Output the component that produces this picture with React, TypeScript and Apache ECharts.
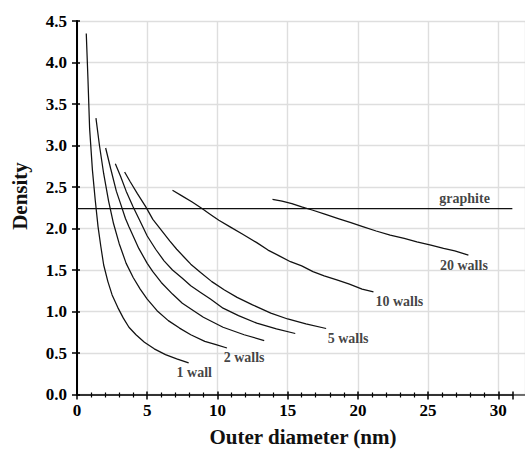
import React, { useEffect, useRef } from "react";
import * as echarts from "echarts";

// Outer diameter (nm) vs density
const wall1: number[][] = [
  [0.66, 4.35], [0.78, 3.8], [0.9, 3.2], [1.1, 2.7], [1.3, 2.34], [1.5, 2.02], [1.7, 1.78],
  [1.9, 1.56], [2.2, 1.36], [2.5, 1.2], [2.9, 1.05], [3.3, 0.92], [3.7, 0.81], [4.2, 0.72],
  [4.8, 0.63], [5.5, 0.55], [6.3, 0.48], [7.1, 0.43], [7.95, 0.38],
];
const walls2: number[][] = [
  [1.35, 3.33], [1.6, 3.0], [1.9, 2.66], [2.25, 2.33], [2.6, 2.06], [3.0, 1.82], [3.5, 1.58],
  [4.0, 1.41], [4.5, 1.27], [5.0, 1.15], [5.7, 1.01], [6.5, 0.89], [7.3, 0.8], [8.1, 0.72],
  [9.1, 0.64], [9.9, 0.6], [10.68, 0.56],
];
const walls3: number[][] = [
  [2.04, 2.97], [2.4, 2.72], [2.8, 2.45], [3.1, 2.3], [3.45, 2.12], [3.7, 2.02], [4.4, 1.76],
  [5.0, 1.58], [5.4, 1.48], [6.0, 1.35], [6.8, 1.21], [7.5, 1.1], [8.3, 1.01], [9.0, 0.93],
  [10.4, 0.81], [11.9, 0.72], [13.33, 0.65],
];
const walls4: number[][] = [
  [2.73, 2.78], [3.1, 2.63], [3.5, 2.45], [4.0, 2.26], [4.46, 2.1], [5.0, 1.91], [5.6, 1.75],
  [6.2, 1.61], [6.8, 1.5], [7.5, 1.4], [8.1, 1.31], [8.8, 1.23], [9.5, 1.15], [10.4, 1.04],
  [11.5, 0.95], [12.8, 0.86], [14.2, 0.79], [15.54, 0.735],
];
const walls5: number[][] = [
  [3.39, 2.68], [3.8, 2.56], [4.3, 2.42], [4.9, 2.26], [5.4, 2.11], [6.0, 1.98], [6.6, 1.85],
  [7.1, 1.75], [7.6, 1.66], [8.1, 1.57], [8.8, 1.47], [9.6, 1.36], [10.5, 1.26], [11.4, 1.17],
  [12.5, 1.08], [13.8, 0.98], [15.0, 0.91], [16.3, 0.85], [17.74, 0.795],
];
const walls10: number[][] = [
  [6.8, 2.46], [7.5, 2.39], [8.2, 2.32], [8.9, 2.24], [9.5, 2.17], [10.1, 2.1], [10.9, 2.02],
  [11.8, 1.93], [12.8, 1.83], [13.6, 1.74], [14.4, 1.67], [15.2, 1.6], [16.0, 1.55],
  [16.8, 1.48], [17.6, 1.43], [18.5, 1.38], [19.4, 1.33], [20.3, 1.27], [21.11, 1.237],
];
const walls20: number[][] = [
  [13.92, 2.35], [14.6, 2.33], [15.3, 2.3], [16.0, 2.26], [16.8, 2.22], [17.7, 2.17],
  [18.6, 2.12], [19.5, 2.07], [20.4, 2.02], [21.3, 1.97], [22.3, 1.92], [23.3, 1.88],
  [24.2, 1.84], [25.2, 1.8], [26.1, 1.76], [26.9, 1.73], [27.87, 1.68],
];
const graphite: number[][] = [[0, 2.24], [31, 2.24]];

const labelNames = ["1 wall", "2 walls", "5 walls", "10 walls", "20 walls", "graphite"];
const labelX = [8.35, 11.9, 19.3, 22.95, 27.55, 27.6];
const labelY = [0.27, 0.45, 0.67, 1.12, 1.56, 2.36];

const X_MAX = 31;
const Y_MAX = 4.5;
const X_GRID_MAX = 31.9;

const SERIF = "Liberation Serif";

const tickRich = {
  t: { fontFamily: SERIF, fontWeight: "bold", fontSize: 17, color: "#000" },
};

export default function App() {
  const ref = useRef<HTMLDivElement>(null);
  useEffect(() => {
    if (!ref.current) return;
    const chart = echarts.init(ref.current, undefined, { renderer: "svg" });
    const W = 525;
    const L = 77;
    const k = (W - L) / X_GRID_MAX;
    const right1 = W - L - X_MAX * k;
    const top = 21;
    const bottom = 56.5;

    const curves = [wall1, walls2, walls3, walls4, walls5, walls10, walls20, graphite];
    const lineSeries = curves.map((d) => ({
      type: "line",
      xAxisIndex: 0,
      yAxisIndex: 0,
      data: d,
      symbol: "none",
      smooth: false,
      clip: false,
      lineStyle: { color: "#111", width: 1.25 },
      z: 3,
    }));

    const hidden = { show: false };

    chart.setOption({
      animation: false,
      textStyle: { fontFamily: SERIF, fontWeight: "bold", color: "#000" },
      grid: [
        { left: L, right: right1, top, bottom },
        { left: L, right: 0, top, bottom },
        { left: L, right: right1, top, bottom },
      ],
      xAxis: [
        {
          type: "value",
          gridIndex: 0,
          position: "bottom",
          min: 0,
          max: X_MAX,
          interval: 5,
          axisLine: { show: true, lineStyle: { color: "#000", width: 2 } },
          axisTick: { show: true, inside: false, length: 5, lineStyle: { color: "#000", width: 1.5 } },
          minorTick: { show: true, splitNumber: 5, length: 3, lineStyle: { color: "#000", width: 1.2 } },
          axisLabel: {
            show: true,
            margin: 7,
            showMaxLabel: false,
            fontFamily: SERIF,
            fontWeight: "bold",
            fontSize: 17,
            color: "#000",
            rich: tickRich,
            formatter: (v: number) => (v % 5 === 0 ? `{t|${v}}` : ""),
          },
          splitLine: hidden,
        },
        {
          type: "value",
          gridIndex: 1,
          position: "top",
          min: 0,
          max: X_GRID_MAX,
          interval: 5,
          axisLine: { show: true, lineStyle: { color: "#444", width: 1.6 } },
          axisTick: hidden,
          axisLabel: hidden,
          splitLine: { show: true, lineStyle: { color: "#dedede", width: 1.4 } },
        },
        {
          type: "value",
          gridIndex: 2,
          position: "bottom",
          min: 0,
          max: X_MAX,
          interval: 5,
          axisLine: hidden,
          axisTick: { show: true, inside: true, length: 3, lineStyle: { color: "#000", width: 1.5 } },
          minorTick: { show: true, splitNumber: 5, length: 2, lineStyle: { color: "#000", width: 1.2 } },
          axisLabel: hidden,
          splitLine: hidden,
        },
      ],
      yAxis: [
        {
          type: "value",
          gridIndex: 0,
          min: 0,
          max: Y_MAX,
          interval: 0.5,
          axisLine: { show: true, lineStyle: { color: "#000", width: 2 } },
          axisTick: { show: true, inside: false, length: 5, lineStyle: { color: "#000", width: 1.5 } },
          axisLabel: {
            show: true,
            margin: 10,
            fontFamily: SERIF,
            fontWeight: "bold",
            fontSize: 17,
            color: "#000",
            rich: tickRich,
            formatter: (v: number) => `{t|${v.toFixed(1)}}`,
          },
          splitLine: hidden,
        },
        {
          type: "value",
          gridIndex: 1,
          min: 0,
          max: Y_MAX,
          interval: 0.5,
          axisLine: hidden,
          axisTick: hidden,
          axisLabel: hidden,
          splitLine: { show: true, lineStyle: { color: "#dedede", width: 1.4 } },
        },
        {
          type: "value",
          gridIndex: 2,
          min: 0,
          max: Y_MAX,
          interval: 0.5,
          axisLine: hidden,
          axisTick: { show: true, inside: true, length: 3, lineStyle: { color: "#000", width: 1.5 } },
          axisLabel: hidden,
          splitLine: hidden,
        },
      ],
      series: [
        ...lineSeries,
        {
          type: "scatter",
          xAxisIndex: 0,
          yAxisIndex: 0,
          symbolSize: 1,
          clip: false,
          itemStyle: { color: "rgba(0,0,0,0)" },
          data: labelNames.map((n, i) => ({ name: n, value: [labelX[i], labelY[i]] })),
          label: {
            show: true,
            position: "inside",
            formatter: (p: any) => p.name,
            fontFamily: SERIF,
            fontWeight: "bold",
            fontSize: 14,
            color: "#111",
          },
          z: 4,
        },
      ],
      graphic: [
        {
          type: "text",
          x: 303,
          y: 437,
          style: {
            text: "Outer diameter (nm)",
            font: `bold 21px "${SERIF}"`,
            fill: "#111",
            textAlign: "center",
            textVerticalAlign: "middle",
          },
        },
        {
          type: "text",
          x: 20,
          y: 196,
          rotation: Math.PI / 2,
          style: {
            text: "Density",
            font: `bold 21px "${SERIF}"`,
            fill: "#111",
            textAlign: "center",
            textVerticalAlign: "middle",
          },
        },
      ],
    });
    return () => chart.dispose();
  }, []);
  return (
    <div
      ref={ref}
      style={{ position: "fixed", left: 0, top: 0, width: 525, height: 451, background: "#fff" }}
    />
  );
}
